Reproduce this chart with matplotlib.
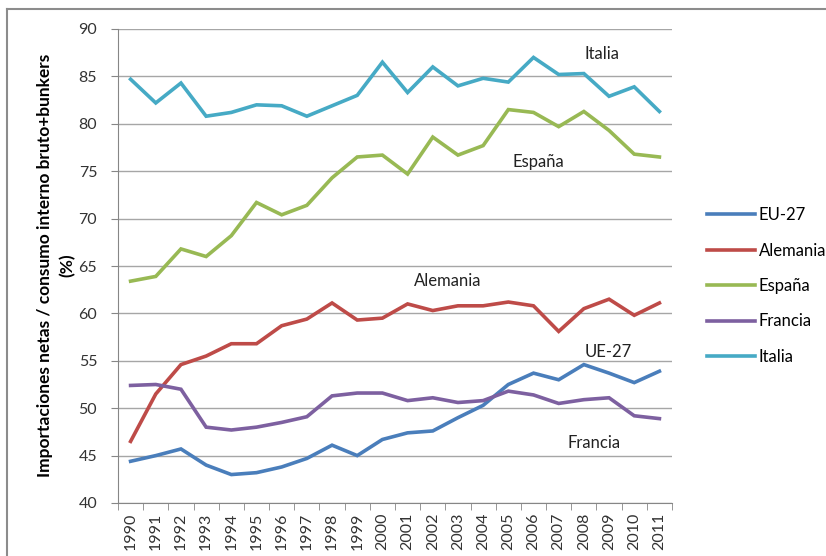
import matplotlib
matplotlib.use("Agg")
import matplotlib.pyplot as plt
from matplotlib.lines import Line2D

years = [str(y) for y in range(1990, 2012)]
eu27 = [44.4, 45.0, 45.7, 44.0, 43.0, 43.2, 43.8, 44.7, 46.1, 45.0, 46.7,
        47.4, 47.6, 49.0, 50.3, 52.5, 53.7, 53.0, 54.6, 53.7, 52.7, 53.9]
alemania = [46.5, 51.5, 54.6, 55.5, 56.8, 56.8, 58.7, 59.4, 61.1, 59.3, 59.5,
            61.0, 60.3, 60.8, 60.8, 61.2, 60.8, 58.1, 60.5, 61.5, 59.8, 61.1]
espana = [63.4, 63.9, 66.8, 66.0, 68.2, 71.7, 70.4, 71.4, 74.3, 76.5, 76.7,
          74.7, 78.6, 76.7, 77.7, 81.5, 81.2, 79.7, 81.3, 79.3, 76.8, 76.5]
francia = [52.4, 52.5, 52.0, 48.0, 47.7, 48.0, 48.5, 49.1, 51.3, 51.6, 51.6,
           50.8, 51.1, 50.6, 50.8, 51.8, 51.4, 50.5, 50.9, 51.1, 49.2, 48.9]
italia = [84.7, 82.2, 84.3, 80.8, 81.2, 82.0, 81.9, 80.8, 81.9, 83.0, 86.5,
          83.3, 86.0, 84.0, 84.8, 84.4, 87.0, 85.2, 85.3, 82.9, 83.9, 81.3]

series_names = ["EU-27", "Alemania", "España", "Francia", "Italia"]
series_values = [eu27, alemania, espana, francia, italia]
colors = ["#4A7EBB", "#BE4B48", "#98B954", "#7D60A0", "#46AAC5"]

plt.rcParams['font.family'] = ['Lato', 'DejaVu Sans']

W, H = 826, 556
fig = plt.figure(figsize=(W / 100, H / 100), dpi=100)
left, right, top, bottom = 118, 672, 29, 503
ax = fig.add_axes([left / W, 1 - bottom / H, (right - left) / W, (bottom - top) / H])

x = list(range(len(years)))
for name, vals, c in zip(series_names, series_values, colors):
    ax.plot(x, vals, color=c, lw=2.6, solid_joinstyle='miter', label=name)

ax.set_xlim(-0.5, len(years) - 0.5)
ax.set_ylim(40, 90)
ax.set_yticks(range(40, 91, 5))
ax.yaxis.grid(True, color='#A6A6A6', lw=1)
ax.set_axisbelow(True)
ax.set_xticks(x)
ax.set_xticklabels(years, rotation=90, fontsize=11.5, color='#333333')
ax.set_xticks([i - 0.5 for i in range(len(years) + 1)], minor=True)
ax.tick_params(axis='x', which='major', length=0, pad=7)
ax.tick_params(axis='x', which='minor', length=5, color='#868686', direction='out')
ax.tick_params(axis='y', length=5, color='#868686', direction='out', labelsize=11.5,
               labelcolor='#333333', pad=10)
for s in ['top', 'right']:
    ax.spines[s].set_visible(False)
for s in ['left', 'bottom']:
    ax.spines[s].set_color('#868686')

fig.text(56 / W, 1 - 265 / H, "Importaciones netas / consumo interno bruto+bunkers\n(%)",
         rotation=90, ha='center', va='center', fontsize=12.5, fontweight='bold',
         linespacing=1.5)

# inline annotations
ann = [("Italia", 18.72, 87.4), ("España", 16.18, 76.0), ("Alemania", 12.6, 63.4),
       ("UE-27", 18.96, 55.9), ("Francia", 18.4, 46.3)]
for t, xx, yy in ann:
    ax.text(xx, yy, t, fontsize=12, ha='center', va='center', color='#222222')

handles = [Line2D([], [], color=c, lw=2.6) for c in colors]
fig.legend(handles, series_names, loc='center left',
           bbox_to_anchor=(692 / W, 1 - 286 / H), frameon=False, fontsize=12,
           handlelength=2.9, handletextpad=0.2, labelspacing=1.17)

# chart area border (left and top)
fig.add_artist(Line2D([7 / W, 7 / W], [0, 1 - 9 / H], transform=fig.transFigure,
                      color='#8C8C8C', lw=1.5))
fig.add_artist(Line2D([7 / W, 1], [1 - 9 / H, 1 - 9 / H], transform=fig.transFigure,
                      color='#8C8C8C', lw=1.5))

fig.savefig("out.png", dpi=100)
